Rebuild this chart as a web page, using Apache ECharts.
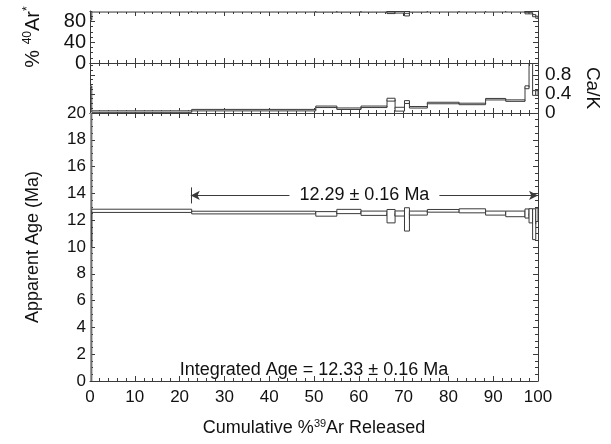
<!DOCTYPE html>
<html>
<head>
<meta charset="utf-8">
<script src="https://cdn.jsdelivr.net/npm/echarts@6/dist/echarts.min.js"></script>
<style>
  html, body { margin: 0; padding: 0; background: #fff; }
  #chart { width: 611px; height: 444px; }
</style>
</head>
<body>
<div id="chart"></div>
<script>
// cumulative %39Ar at the end of each heating step
var stepEnd = [0.4, 22.7, 50.4, 55.1, 60.5, 66.3, 68.1, 70.2, 71.3, 75.3, 82.4, 88.3, 92.8, 97.1, 98.0, 98.8, 99.5, 100];
// apparent age (Ma) and 1 sigma error
var ageVal = [10.0, 12.7, 12.57, 12.47, 12.65, 12.52, 12.3, 12.5, 12.06, 12.53, 12.7, 12.7, 12.53, 12.47, 12.5, 12.33, 11.7, 12.4];
var ageErr = [11.0, 0.12, 0.1, 0.17, 0.16, 0.16, 0.5, 0.19, 0.87, 0.15, 0.1, 0.15, 0.15, 0.21, 0.34, 0.53, 1.15, 0.5];
// Ca/K
var caKVal = [0.55, 0.03, 0.06, 0.13, 0.09, 0.13, 0.28, 0.08, 0.23, 0.12, 0.21, 0.19, 0.29, 0.26, 0.54, 1.3, 0.42, 0.42];
var caKErr = [0.01, 0.01, 0.01, 0.01, 0.01, 0.01, 0.03, 0.04, 0.03, 0.01, 0.01, 0.01, 0.01, 0.01, 0.03, 0.05, 0.05, 0.05];
// % radiogenic 40Ar
var radVal = [84, 99.4, 99.4, 99.2, 99.2, 99.2, 96.5, 97.5, 93, 99.2, 99.4, 99.4, 99.4, 99.4, 96, 96, 91, 88];
var radErr = [0.5, 0.4, 0.4, 0.4, 0.4, 0.4, 1.2, 1.2, 2.5, 0.4, 0.4, 0.4, 0.4, 0.4, 1.5, 1.5, 2, 2];

var plateauStart = 22.5, plateauEnd = 100, plateauLabelAge = 13.85;
var plateauText = '12.29 \u00b1 0.16 Ma';
var integratedText = 'Integrated Age = 12.33 \u00b1 0.16 Ma';

var ink = '#3a3a3a';
var font = 'Liberation Sans, Arial, Helvetica, sans-serif';

function buildSteps(vals, errs) {
  return vals.map(function (v, i) {
    return [i ? stepEnd[i - 1] : 0, stepEnd[i], v, errs[i], i ? vals[i - 1] : 0];
  });
}

function renderStep(params, api) {
  var x0 = api.value(0), x1 = api.value(1), v = api.value(2), e = api.value(3), pv = api.value(4);
  var a = api.coord([x0, v + e]), b = api.coord([x1, v - e]);
  var h = b[1] - a[1];
  var y = a[1];
  if (h < 1.5) { y = (a[1] + b[1]) / 2 - 0.75; h = 1.5; }
  var c0 = api.coord([x0, pv]), c1 = api.coord([x0, v]);
  return {
    type: 'group',
    children: [
      { type: 'line', shape: { x1: c0[0], y1: c0[1], x2: c1[0], y2: c1[1] }, style: { stroke: ink, lineWidth: 1 } },
      { type: 'rect', shape: { x: a[0], y: y, width: b[0] - a[0], height: h }, style: { fill: '#fff', stroke: ink, lineWidth: 1 } }
    ]
  };
}

function xAx(grid, pos, labels) {
  return {
    gridIndex: grid, type: 'value', min: 0, max: 100, interval: 10, position: pos,
    axisLine: { show: true, onZero: false, lineStyle: { color: ink, width: 1 } },
    axisTick: { show: true, inside: true, length: 5, lineStyle: { color: ink } },
    minorTick: { show: true, splitNumber: 5, length: 3, lineStyle: { color: ink } },
    splitLine: { show: false },
    axisLabel: { show: labels, color: '#111', fontSize: 17, fontFamily: font, margin: 8 }
  };
}

function yAx(grid, pos, min, max, interval, minor, labelShow, labelSize, fmt, margin) {
  return {
    gridIndex: grid, type: 'value', min: min, max: max, interval: interval, position: pos,
    axisLine: { show: true, onZero: false, lineStyle: { color: ink, width: 1 } },
    axisTick: { show: true, inside: true, length: 5, lineStyle: { color: ink } },
    minorTick: { show: true, splitNumber: minor, length: 3, lineStyle: { color: ink } },
    splitLine: { show: false },
    axisLabel: { show: labelShow, color: '#111', fontSize: labelSize, fontFamily: font, margin: margin || 4, formatter: fmt }
  };
}

var chart = echarts.init(document.getElementById('chart'), null, { renderer: 'canvas' });

var yAxes = [
  yAx(0, 'left', 0, 100, 40, 4, true, 20, function (v) { return v > 80 ? '' : String(v); }),
  yAx(0, 'right', 0, 100, 40, 4, false, 17),
  yAx(1, 'left', 0, 1.05, 0.4, 4, false, 17),
  yAx(1, 'right', 0, 1.05, 0.4, 4, true, 19, function (v) { return v > 0.8 ? '' : String(v); }, 7),
  yAx(2, 'left', 0, 20, 2, 4, true, 17),
  yAx(2, 'right', 0, 20, 2, 4, false, 17)
];
yAxes[0].name = '% {sup|40}Ar{sup|*}';
yAxes[0].nameLocation = 'middle';
yAxes[0].nameRotate = 90;
yAxes[0].nameGap = 46;
yAxes[0].nameTextStyle = {
  color: '#111', fontSize: 20, fontFamily: font, lineHeight: 22,
  rich: { sup: { fontSize: 12, verticalAlign: 'top', fontFamily: font, color: '#111' } }
};
yAxes[3].name = 'Ca/K';
yAxes[3].nameLocation = 'middle';
yAxes[3].nameRotate = -90;
yAxes[3].nameGap = 44;
yAxes[3].nameTextStyle = { color: '#111', fontSize: 19, fontFamily: font };
yAxes[4].name = 'Apparent Age (Ma)';
yAxes[4].nameLocation = 'middle';
yAxes[4].nameRotate = 90;
yAxes[4].nameGap = 48;
yAxes[4].nameTextStyle = { color: '#111', fontSize: 18, fontFamily: font };

var xAxes = [
  xAx(0, 'bottom', false), xAx(0, 'top', false),
  xAx(1, 'bottom', false), xAx(1, 'top', false),
  xAx(2, 'bottom', true), xAx(2, 'top', false)
];
xAxes[4].name = 'Cumulative %{sup|39}Ar Released';
xAxes[4].nameLocation = 'middle';
xAxes[4].nameGap = 37;
xAxes[4].nameTextStyle = {
  color: '#111', fontSize: 18, fontFamily: font, lineHeight: 20,
  rich: { sup: { fontSize: 11, verticalAlign: 'top', fontFamily: font, color: '#111' } }
};

var option = {
  backgroundColor: '#ffffff',
  animation: false,
  grid: [
    { left: 90, right: 73, top: 11, height: 52 },
    { left: 90, right: 73, top: 63, height: 50 },
    { left: 90, right: 73, top: 113, height: 268 }
  ],
  xAxis: xAxes,
  yAxis: yAxes,
  series: [
    {
      type: 'custom', xAxisIndex: 0, yAxisIndex: 0, clip: true,
      renderItem: renderStep, data: buildSteps(radVal, radErr)
    },
    {
      type: 'custom', xAxisIndex: 2, yAxisIndex: 3, clip: true,
      renderItem: renderStep, data: buildSteps(caKVal, caKErr)
    },
    {
      type: 'custom', xAxisIndex: 4, yAxisIndex: 4, clip: true,
      renderItem: renderStep, data: buildSteps(ageVal, ageErr),
      markLine: {
        silent: true,
        symbol: ['arrow', 'arrow'],
        symbolSize: [7, 9],
        lineStyle: { color: ink, type: 'solid', width: 1 },
        label: { show: false },
        data: [
          [{ coord: [plateauStart, plateauLabelAge] }, { coord: [plateauEnd, plateauLabelAge] }],
          [{ coord: [plateauStart, plateauLabelAge - 0.6], symbol: 'none' }, { coord: [plateauStart, plateauLabelAge + 0.6], symbol: 'none' }]
        ]
      },
      markPoint: {
        silent: true,
        symbol: 'rect',
        symbolSize: 0,
        label: { show: true, position: 'inside', color: '#111', fontSize: 18, fontFamily: font },
        data: [
          { coord: [(plateauStart + plateauEnd) / 2, plateauLabelAge], label: { formatter: plateauText, backgroundColor: '#fff', padding: [0, 10] } },
          { coord: [50, 0.8], label: { formatter: integratedText } }
        ]
      }
    }
  ]
};

chart.setOption(option);
</script>
</body>
</html>
